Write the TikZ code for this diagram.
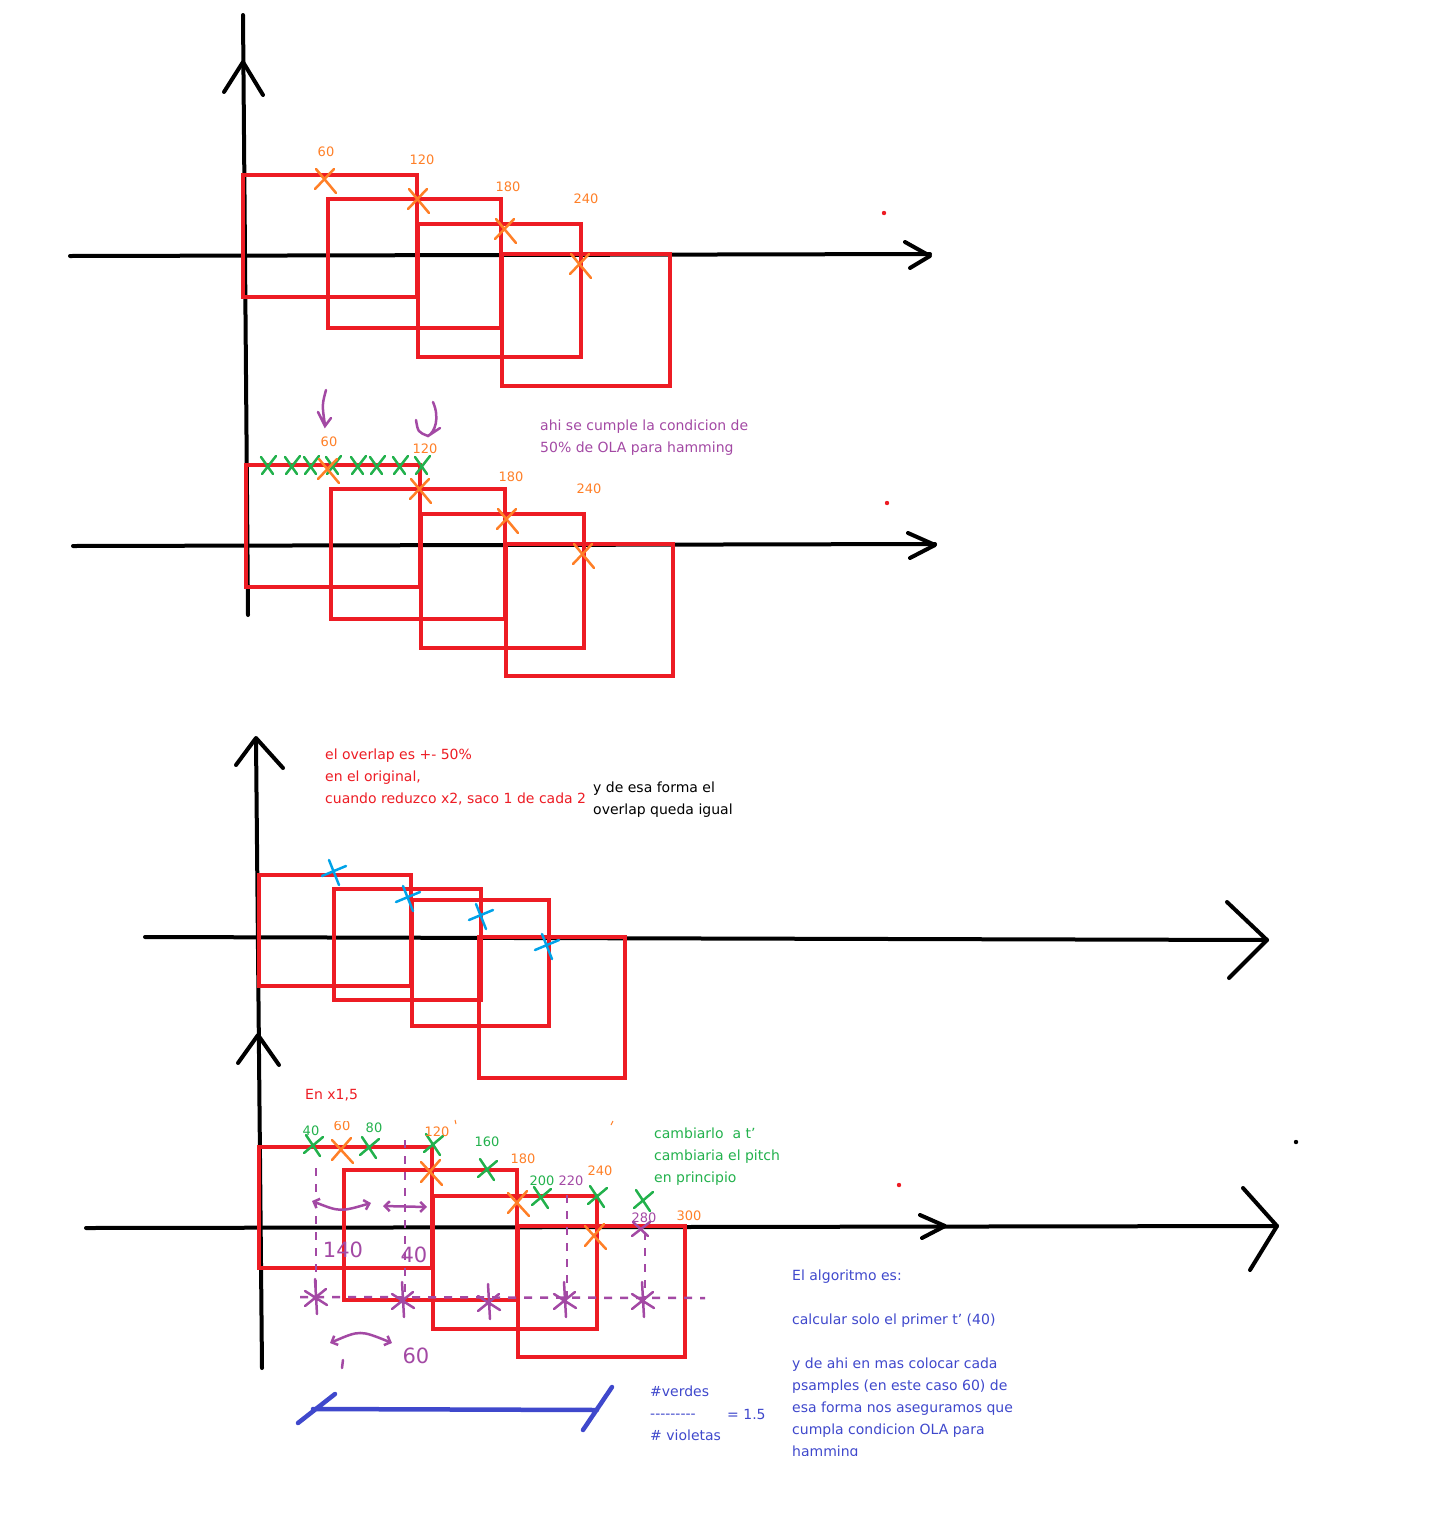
\documentclass[tikz,border=0pt]{standalone}
\usepackage{fontspec}
\setmainfont{DejaVu Sans}
\usetikzlibrary{arrows.meta, positioning, calc}
\definecolor{pred}{RGB}{237,28,36}
\definecolor{porange}{RGB}{255,127,39}
\definecolor{pgreen}{RGB}{34,177,76}
\definecolor{ppurple}{RGB}{163,73,164}
\definecolor{pblue}{RGB}{63,72,204}
\definecolor{pcyan}{RGB}{0,162,232}
\tikzset{
  axis/.style={line width=4pt, line cap=round, line join=round},
  box/.style={draw=pred, line width=3.5pt},
  cross/.style={line width=2.5pt, line cap=round},
  lbl/.style={font=\fontsize{13}{15}\selectfont, inner sep=0pt},
  note/.style={font=\fontsize{14}{22}\selectfont, anchor=base west, align=left, inner sep=0pt},
  hand/.style={font=\fontsize{21}{21}\selectfont, text=ppurple, inner sep=0pt},
  pdash/.style={ppurple, line width=2.5pt, dash pattern=on 8pt off 8pt},
}
\begin{document}
\begin{tikzpicture}[x=1pt,y=-1pt]
\useasboundingbox (0,0) rectangle (1442,1540);

% first sketch: original frames
\draw[axis] (243,15) -- (248,615);
\draw[axis] (224,92) -- (243,62) -- (263,95);
\draw[axis] (70,256) -- (930,254);
\draw[axis] (905,242) -- (930,256) -- (910,268);
\draw[box] (243,175) rectangle (417,297);
\draw[box] (328,199) rectangle (501,328);
\draw[box] (418,224) rectangle (581,357);
\draw[box] (502,254) rectangle (670,386);
\foreach \x/\y in {325/180, 418/200, 505/230, 580/265}
  \draw[cross,porange] (\x-9,\y-11) -- (\x+11,\y+13) (\x-10,\y+9) -- (\x+9,\y-11);
\node[lbl,text=porange] (ta60) at (326,152) {60};
\node[lbl,text=porange] (ta120) at (422,160) {120};
\node[lbl,text=porange] (ta180) at (508,187) {180};
\node[lbl,text=porange] (ta240) at (586,199) {240};
\fill[pred] (884,213) circle (2.2);

% second sketch: keep one of every two
\draw[axis] (73,546) -- (935,544);
\draw[axis] (908,533) -- (935,545) -- (910,558);
\draw[box] (246,465) rectangle (420,587);
\draw[box] (331,489) rectangle (505,619);
\draw[box] (421,514) rectangle (584,648);
\draw[box] (506,544) rectangle (673,676);
\foreach \x in {268,292,311,333,358,377,400,422}
  \draw[cross,pgreen] (\x-7,457) -- (\x+5,474) (\x-6,474) -- (\x+8,456);
\foreach \x/\y in {328/470, 420/490, 507/520, 583/555}
  \draw[cross,porange] (\x-9,\y-11) -- (\x+11,\y+13) (\x-10,\y+9) -- (\x+9,\y-11);
\node[lbl,text=porange] (tb60) at (329,442) {60};
\node[lbl,text=porange] (tb120) at (425,449) {120};
\node[lbl,text=porange] (tb180) at (511,477) {180};
\node[lbl,text=porange] (tb240) at (589,489) {240};
\draw[ppurple,line width=2.5pt,line cap=round] (326,390) .. controls (322,405) .. (325,425)
  (318,412) -- (325,426) -- (331,418);
\draw[ppurple,line width=2.5pt,line cap=round] (433,402) .. controls (440,418) and (435,432) .. (428,436)
  (416,420) .. controls (418,432) .. (428,436) -- (440,428);
\node[note,text=ppurple] (olanote) at (540,452) {ahi se cumple la condicion de\\50\% de OLA para hamming};
\fill[pred] (887,503) circle (2.2);

% third sketch: reduced x2
\draw[axis] (256,740) -- (262,1368);
\draw[axis] (236,765) -- (256,738) -- (283,768);
\draw[axis] (145,937) -- (1267,940);
\draw[axis] (1227,902) -- (1267,940) -- (1229,978);
\node[note,text=pred] (overlapnote) at (325,803) {el overlap es +- 50\%\\en el original,\\cuando reduzco x2, saco 1 de cada 2};
\node[note,text=black] (igualnote) at (593,814) {y de esa forma el\\overlap queda igual};
\draw[box] (259,875) rectangle (411,986);
\draw[box] (334,889) rectangle (481,1000);
\draw[box] (412,900) rectangle (549,1026);
\draw[box] (479,937) rectangle (625,1078);
\foreach \x/\y in {334/872, 408/898, 481/916, 547/946}
  \draw[cross,pcyan] (\x-5,\y-12) -- (\x+5,\y+13) (\x-12,\y+4) -- (\x+12,\y-6);

% fourth sketch: x1,5
\draw[axis] (238,1063) -- (258,1035) -- (279,1065);
\draw[axis] (86,1228) -- (1277,1226);
\draw[axis] (920,1215) -- (945,1226) -- (922,1238);
\draw[axis] (1243,1188) -- (1277,1226) -- (1250,1270);
\node[note,text=pred] (x15note) at (305,1099) {En x1,5};
\draw[box] (259,1147) rectangle (432,1268);
\draw[box] (344,1170) rectangle (517,1300);
\draw[box] (433,1196) rectangle (597,1329);
\draw[box] (518,1226) rectangle (685,1357);
% purple dashed guides
\draw[pdash] (316,1168) -- (316,1300);
\draw[pdash] (405,1140) -- (405,1300);
\draw[pdash] (567,1195) -- (567,1300);
\draw[pdash] (645,1232) -- (645,1300);
\draw[pdash] (300,1297) -- (705,1298);
\draw[ppurple,line width=2.5pt,line cap=round] (343,1360) -- (342,1368);
\foreach \x/\y in {316/1297, 403/1300, 489/1302, 565/1300, 643/1300}
  \draw[cross,ppurple] (\x-11,\y-6) -- (\x+11,\y+8) (\x-11,\y+9) -- (\x+10,\y-8) (\x-1,\y-18) -- (\x+1,\y+17);
\foreach \x/\y in {313/1145, 369/1147, 433/1144, 487/1169, 541/1197, 597/1196, 643/1200}
  \draw[cross,pgreen] (\x-7,\y-10) -- (\x+7,\y+11) (\x-9,\y+8) -- (\x+10,\y-8);
\foreach \x/\y in {342/1150, 431/1172, 518/1203, 595/1236}
  \draw[cross,porange] (\x-10,\y-10) -- (\x+11,\y+13) (\x-10,\y+10) -- (\x+9,\y-12);
\draw[cross,ppurple] (633,1222) -- (648,1236) (632,1236) -- (650,1222);
\draw[porange,line width=1pt] (455,1120) -- (456,1124) (613,1121) -- (611,1125);
\node[lbl,text=pgreen] (tc40) at (311,1131) {40};
\begin{scope}
  \clip (320,1121) rectangle (360,1140);
  \node[lbl,text=porange] (tc60) at (342,1126) {60};
\end{scope}
\node[lbl,text=pgreen] (tc80) at (374,1128) {80};
\node[lbl,text=porange] (tc120) at (437,1132) {120};
\node[lbl,text=pgreen] (tc160) at (487,1142) {160};
\node[lbl,text=porange] (tc180) at (523,1159) {180};
\node[lbl,text=pgreen] (tc200) at (542,1181) {200};
\node[lbl,text=ppurple] (tc220) at (571,1181) {220};
\node[lbl,text=porange] (tc240) at (600,1171) {240};
\node[lbl,text=ppurple] (tc280) at (644,1218) {280};
\node[lbl,text=porange] (tc300) at (689,1216) {300};
% spacing arrows
\draw[ppurple,line width=2.5pt,line cap=round,{Straight Barb[length=5pt,width=10pt]}-{Straight Barb[length=5pt,width=10pt]}]
  (312,1201) .. controls (340,1212) .. (371,1203);
\draw[ppurple,line width=2.5pt,line cap=round,{Straight Barb[length=5pt,width=10pt]}-{Straight Barb[length=5pt,width=10pt]}]
  (383,1206) -- (427,1207);
\draw[ppurple,line width=2.5pt,line cap=round,{Straight Barb[length=5pt,width=10pt]}-{Straight Barb[length=5pt,width=10pt]}]
  (330,1343) .. controls (360,1330) .. (392,1343);
\node[hand] (h140) at (343,1250) {140};
\node[hand] (h40) at (414,1255) {40};
\node[hand] (h60) at (416,1356) {60};
\node[note,text=pgreen] (pitchnote) at (654,1182) {cambiarlo\ \ a t{\char"27}\\cambiaria el pitch\\en principio};
\fill[pred] (899,1185) circle (2.2);
\fill[black] (1296,1142) circle (2.2);

% ratio
\draw[pblue,line width=4.5pt,line cap=round] (313,1409) -- (597,1410)
  (298,1423) -- (335,1394) (583,1430) -- (612,1387);
\node[note,text=pblue] (verdes) at (650,1440) {\#verdes\\-{}-{}-{}-{}-{}-{}-{}-{}-\\\# violetas};
\node[note,text=pblue] (ratio) at (727,1419) {= 1.5};
\begin{scope}
  \clip (780,1255) rectangle (1060,1455);
  \node[note,text=pblue] (algo) at (792,1456) {El algoritmo es:\\[22pt]calcular solo el primer t{\char"27} (40)\\[22pt]y de ahi en mas colocar cada\\psamples (en este caso 60) de\\esa forma nos aseguramos que\\cumpla condicion OLA para\\hamming};
\end{scope}
\end{tikzpicture}
\end{document}
